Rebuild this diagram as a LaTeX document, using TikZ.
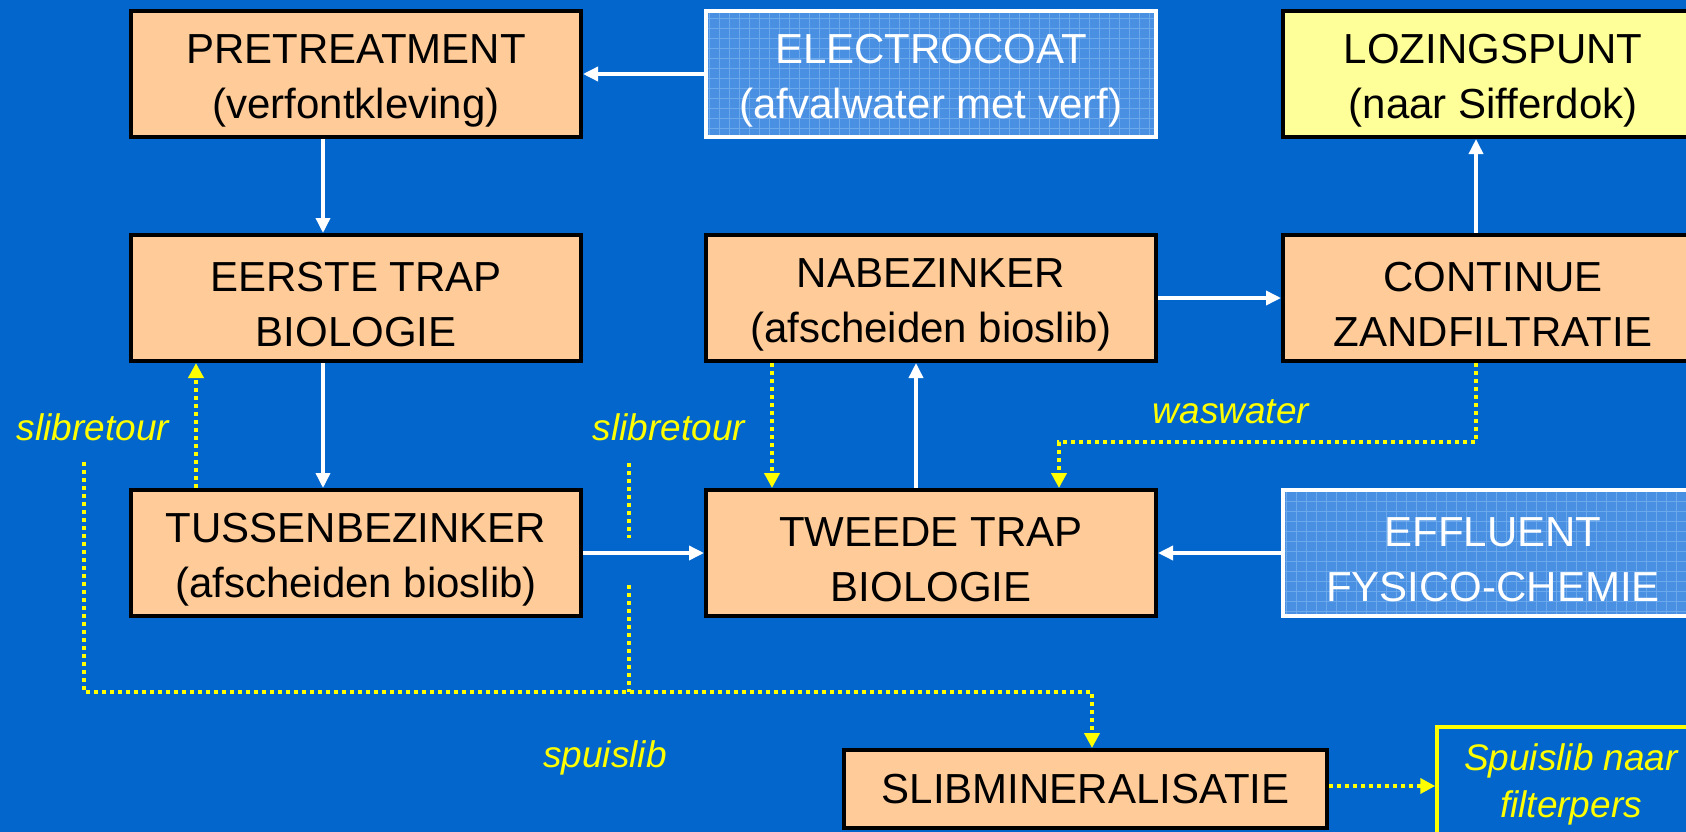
\documentclass[tikz,border=0pt]{standalone}
\usepackage{fontspec}
\setmainfont{Liberation Sans}
\usetikzlibrary{arrows.meta}
\definecolor{bg}{RGB}{3,102,204}
\definecolor{peach}{RGB}{255,204,153}
\definecolor{lightyel}{RGB}{255,255,153}
\definecolor{gridfill}{RGB}{74,144,226}
\definecolor{gridline}{RGB}{108,168,236}
\definecolor{ylw}{RGB}{255,255,0}
\newcommand{\mystrut}{\rule{0pt}{42pt}}
\tikzset{
  proc/.style={draw=black, line width=4pt, fill=peach, minimum width=450pt, minimum height=126pt,
    inner sep=0pt, align=center, text=black, font=\fontsize{42}{55}\selectfont},
  srcbox/.style={proc, draw=white, fill=gridfill, text=white,
    path picture={\draw[gridline, line width=0.7pt] (path picture bounding box.south west) grid[step=10pt] (path picture bounding box.north east);}},
  wline/.style={white, line width=3.5pt, -{Triangle[length=15pt,width=14pt]}},
  yline/.style={ylw, line width=4pt, dash pattern=on 4pt off 4pt},
  yarrow/.style={yline, -{Triangle[length=15pt,width=15pt]}},
  lbl/.style={text=ylw, font=\fontsize{37}{43}\selectfont\itshape, anchor=base, inner sep=0pt}
}
\begin{document}
\begin{tikzpicture}[x=1pt,y=-1pt]
\fill[bg] (0,0) rectangle (1686,832);
\useasboundingbox (0,0) rectangle (1686,832);

% boxes
\node[proc] (pre) at (356,74) {\mystrut PRETREATMENT\\(verfontkleving)};
\node[srcbox] (elec) at (931,74) {\mystrut ELECTROCOAT\\(afvalwater met verf)};
\node[proc, fill=lightyel, minimum width=420pt] (loz) at (1493,74) {\mystrut LOZINGSPUNT\\(naar Sifferdok)};
\node[proc] (eer) at (356,298) {\mystrut EERSTE TRAP\\BIOLOGIE};
\node[proc] (nab) at (931,298) {\mystrut NABEZINKER\\(afscheiden bioslib)};
\node[proc, minimum width=420pt] (con) at (1493,298) {\mystrut CONTINUE\\ZANDFILTRATIE};
\node[proc] (tus) at (356,553) {\mystrut TUSSENBEZINKER\\(afscheiden bioslib)};
\node[proc] (twe) at (931,553) {\mystrut TWEEDE TRAP\\BIOLOGIE};
\node[srcbox, minimum width=420pt] (eff) at (1493,553) {\mystrut EFFLUENT\\FYSICO-CHEMIE};
\node[proc, minimum width=483pt, minimum height=78pt] (slib) at (1085.5,789) {SLIBMINERALISATIE};
\node[draw=ylw, line width=3.5pt, minimum width=268pt, minimum height=114pt, inner sep=0pt,
  align=center, text=ylw, font=\fontsize{37}{47}\selectfont\itshape] (spui) at (1571,784) {Spuislib naar\\filterpers};

% helper coordinates
\coordinate (xa) at (323,0);
\coordinate (xb) at (916,0);
\coordinate (xc) at (1476,0);
\coordinate (xd) at (196,0);
\coordinate (xe) at (772,0);
\coordinate (xf) at (1059,0);
\coordinate (xg) at (1092,0);
\coordinate (ya) at (0,786);
\coordinate (s1) at (84,462);
\coordinate (s2) at (84,692);
\coordinate (s3) at (1092,692);
\coordinate (t1) at (629,463);
\coordinate (t2) at (629,538);
\coordinate (t3) at (629,585);
\coordinate (t4) at (629,692);
\coordinate (w1) at (1476,442);
\coordinate (w2) at (1059,442);

% white flow arrows
\draw[wline] (elec.west) -- (pre.east);
\draw[wline] (pre.south -| xa) -- (eer.north -| xa);
\draw[wline] (eer.south -| xa) -- (tus.north -| xa);
\draw[wline] (tus.east) -- (twe.west);
\draw[wline] (twe.north -| xb) -- (nab.south -| xb);
\draw[wline] (nab.east) -- (con.west);
\draw[wline] (con.north -| xc) -- (loz.south -| xc);
\draw[wline] (eff.west) -- (twe.east);

% yellow dotted sludge lines
\draw[yarrow] (tus.north -| xd) -- (eer.south -| xd);
\draw[yarrow] (s1) -- (s2) -- (s3) -- (slib.north -| xg);
\draw[yline] (t1) -- (t2);
\draw[yline] (t3) -- (t4);
\draw[yarrow] (nab.south -| xe) -- (twe.north -| xe);
\draw[yarrow] (con.south -| xc) -- (w1) -- (w2) -- (twe.north -| xf);
\draw[yarrow] (slib.east |- ya) -- (spui.west |- ya);

% labels
\node[lbl] (l1) at (93,440) {slibretour};
\node[lbl] (l2) at (669,440) {slibretour};
\node[lbl] (l3) at (1231,423) {waswater};
\node[lbl] (l4) at (605,767) {spuislib};
\end{tikzpicture}
\end{document}
